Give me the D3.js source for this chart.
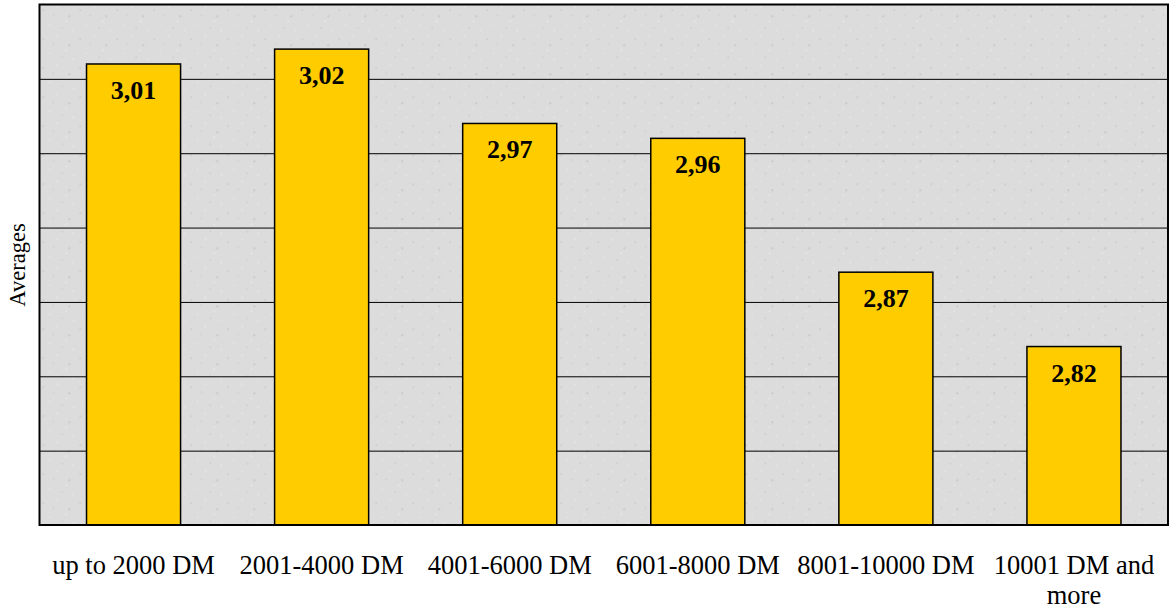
<!DOCTYPE html>
<html lang="en">
<head>
    <meta charset="UTF-8">
    <title>Averages by income group</title>
    <script src="https://d3js.org/d3.v7.min.js"></script>
    <style>
        body {
            margin: 0;
            background: #fff;
        }
        svg text {
            font-family: "Liberation Serif", "Times New Roman", serif;
            fill: #000;
        }
    </style>
</head>
<body>
    <div id="chart"></div>

    <script>
        // Data
        const categories = ['up to 2000 DM', '2001-4000 DM', '4001-6000 DM', '6001-8000 DM', '8001-10000 DM', '10001 DM and more'];
        const averages = [3.01, 3.02, 2.97, 2.96, 2.87, 2.82];
        const valueLabels = ['3,01', '3,02', '2,97', '2,96', '2,87', '2,82'];
        const gridValues = [2.75, 2.80, 2.85, 2.90, 2.95, 3.00];

        const width = 1170, height = 614;
        const margin = { top: 4.5, right: 2, bottom: 89, left: 39.5 };
        const innerW = width - margin.left - margin.right,
              innerH = height - margin.top - margin.bottom;

        const svg = d3.select('#chart')
            .append('svg')
            .attr('width', width)
            .attr('height', height);

        // speckled grey background pattern
        const defs = svg.append('defs');
        const pat = defs.append('pattern')
            .attr('id', 'speckle')
            .attr('patternUnits', 'userSpaceOnUse')
            .attr('width', 37)
            .attr('height', 29);
        pat.append('rect').attr('width', 37).attr('height', 29).attr('fill', '#dcdcdc');
        const dots = [[3, 5, '#c4c4c4'], [17, 2, '#e8e8e8'], [29, 11, '#bdbdbd'], [9, 19, '#e6e6e6'],
                      [22, 23, '#c8c8c8'], [33, 25, '#e9e9e9'], [13, 10, '#cfcfcf'], [26, 16, '#ebebeb']];
        dots.forEach(d => pat.append('rect')
            .attr('x', d[0]).attr('y', d[1]).attr('width', 1.5).attr('height', 1.5).attr('fill', d[2]));

        const g = svg.append('g')
            .attr('transform', `translate(${margin.left},${margin.top})`);

        const x = d3.scaleBand()
            .domain(categories)
            .range([0, innerW])
            .paddingInner(0.5)
            .paddingOuter(0.25);

        const y = d3.scaleLinear()
            .domain([2.70, 3.05])
            .range([innerH, 0]);

        g.append('rect')
            .attr('width', innerW)
            .attr('height', innerH)
            .attr('fill', 'url(#speckle)');

        // gridlines
        g.append('g')
            .call(d3.axisLeft(y).tickValues(gridValues).tickSize(-innerW).tickFormat(''))
            .call(s => s.select('.domain').remove())
            .call(s => s.selectAll('line').attr('stroke', '#000').attr('stroke-width', 1));

        // bars
        g.selectAll('.bar')
            .data(averages)
            .join('rect')
            .attr('class', 'bar')
            .attr('x', (d, i) => x(categories[i]))
            .attr('y', d => y(d))
            .attr('width', x.bandwidth())
            .attr('height', d => innerH - y(d))
            .attr('fill', '#ffcc00')
            .attr('stroke', '#000')
            .attr('stroke-width', 1.5);

        // value labels
        g.selectAll('.val')
            .data(averages)
            .join('text')
            .attr('class', 'val')
            .attr('x', (d, i) => x(categories[i]) + x.bandwidth() / 2)
            .attr('y', d => y(d) + 35)
            .attr('text-anchor', 'middle')
            .attr('font-size', 26)
            .attr('font-weight', 'bold')
            .text((d, i) => valueLabels[i]);

        // frame
        g.append('rect')
            .attr('width', innerW)
            .attr('height', innerH)
            .attr('fill', 'none')
            .attr('stroke', '#000')
            .attr('stroke-width', 2);

        // x axis labels
        const xAxis = g.append('g')
            .attr('transform', `translate(0,${innerH})`)
            .call(d3.axisBottom(x).tickSize(0).tickPadding(0));
        xAxis.select('.domain').remove();
        xAxis.selectAll('text')
            .attr('font-size', 26.5)
            .attr('dy', null)
            .attr('y', 49)
            .call(wrap, 185);

        // y title
        svg.append('text')
            .attr('transform', 'translate(25,265) rotate(-90)')
            .attr('text-anchor', 'middle')
            .attr('font-size', 22.5)
            .text('Averages');

        function wrap(texts, maxW) {
            texts.each(function () {
                const t = d3.select(this);
                const words = t.text().split(' ');
                const y0 = +t.attr('y');
                t.text(null);
                let line = [];
                let lineNo = 0;
                let span = t.append('tspan').attr('x', 0).attr('y', y0);
                words.forEach(w => {
                    line.push(w);
                    span.text(line.join(' '));
                    if (span.node().getComputedTextLength() > maxW && line.length > 1) {
                        line.pop();
                        span.text(line.join(' '));
                        line = [w];
                        lineNo++;
                        span = t.append('tspan').attr('x', 0).attr('y', y0 + lineNo * 30).text(w);
                    }
                });
            });
        }
    </script>
</body>
</html>
